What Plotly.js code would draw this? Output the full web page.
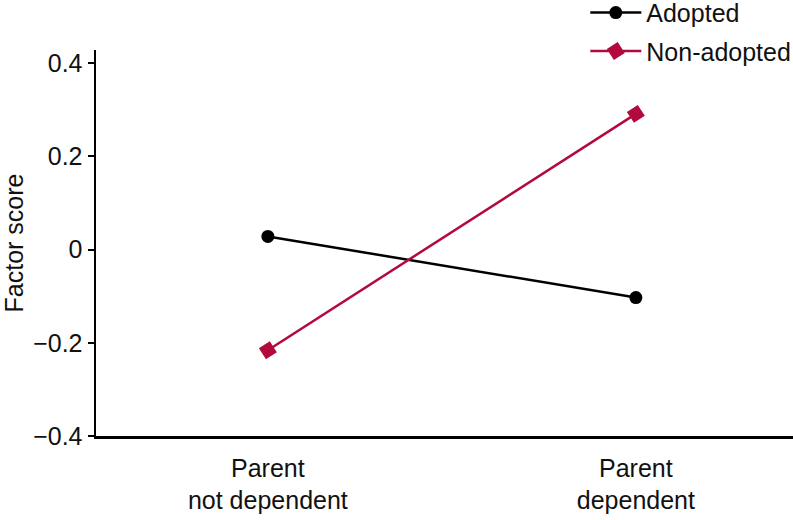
<!DOCTYPE html>
<html><head><meta charset="utf-8">
<script src="https://cdn.plot.ly/plotly-3.0.1.min.js"></script>
<style>html,body{margin:0;padding:0;background:#fff}</style>
</head><body>
<div id="chart" style="width:793px;height:520px"></div>
<script>
const categories = ["Parent<br>not dependent", "Parent<br>dependent"];
const xPos = [0, 1];
const adopted = [0.028, -0.103];
const nonAdopted = [-0.216, 0.291];
const yTicks = [-0.4, -0.2, 0, 0.2, 0.4];
const yTickText = ["\u22120.4", "\u22120.2", "0", "0.2", "0.4"];

const FONT = "'Liberation Sans', Arial, sans-serif";
const RED = "#b30a3d";
const FS = 25;

const traces = [
  {x: xPos, y: adopted, name: "Adopted", type: "scatter", mode: "lines+markers",
   legendgroup: "a",
   line: {color: "#000", width: 2.5},
   marker: {symbol: "circle", size: 13, color: "#000"}},
  {x: xPos, y: nonAdopted, name: "Non-adopted", type: "scatter", mode: "lines+markers",
   legendgroup: "b",
   line: {color: RED, width: 2.5},
   marker: {symbol: "square", size: 13, color: RED, angle: -33}}
];

const layout = {
  width: 793, height: 520,
  margin: {l: 96, r: 0, t: 50, b: 84, autoexpand: false},
  paper_bgcolor: "#fff", plot_bgcolor: "#fff",
  font: {family: FONT, size: FS, color: "#111"},
  showlegend: true,
  legend: {x: 0.702, xanchor: "left", xref: "paper", y: 1.156, yref: "paper", yanchor: "top",
           itemwidth: 51,
           font: {family: FONT, size: FS, color: "#111"}, tracegroupgap: 3, bgcolor: "rgba(0,0,0,0)"},
  xaxis: {range: [-0.467, 1.427], tickvals: xPos, ticktext: categories, showgrid: false, zeroline: false,
          showline: true, linecolor: "#000", linewidth: 2.5, ticks: "", ticklabelstandoff: 8,
          tickfont: {family: FONT, size: FS, color: "#111"}},
  yaxis: {range: [-0.4, 0.428], tickvals: yTicks, ticktext: yTickText, showgrid: false, zeroline: false,
          showline: true, linecolor: "#000", linewidth: 2.5, ticks: "outside", ticklen: 6, tickwidth: 2,
          tickcolor: "#000", tickfont: {family: FONT, size: FS, color: "#111"},
          title: {text: "Factor score", font: {family: FONT, size: FS, color: "#111"}, standoff: 14}}
};

Plotly.newPlot("chart", traces, layout, {displayModeBar: false, staticPlot: true});
</script>
</body></html>
